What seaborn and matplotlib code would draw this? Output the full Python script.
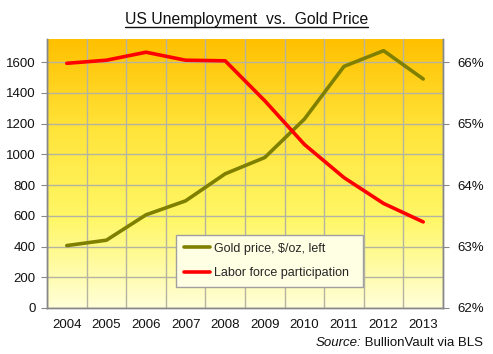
import numpy as np
import pandas as pd
import matplotlib
matplotlib.use("Agg")
import matplotlib.pyplot as plt
import seaborn as sns
from matplotlib.colors import LinearSegmentedColormap
from matplotlib.lines import Line2D

years = ["2004", "2005", "2006", "2007", "2008", "2009", "2010", "2011", "2012", "2013"]
gold = [406, 441, 606, 697, 873, 979, 1229, 1572, 1674, 1490]
labor = [65.98, 66.03, 66.16, 66.03, 66.02, 65.37, 64.66, 64.12, 63.70, 63.40]
right_ticks = [62, 63, 64, 65, 66]

df = pd.DataFrame({"pos": np.arange(len(years)), "gold": gold, "labor": labor})

sns.set_style("white")
plt.rcParams["font.family"] = ["Liberation Sans", "DejaVu Sans"]

fig = plt.figure(figsize=(4.93, 3.54), dpi=100)
ax = fig.add_axes([0.0953, 0.13, 0.8033, 0.7598])
ax2 = ax.twinx()

ymax = 1750
# gradient background
cmap = LinearSegmentedColormap.from_list("bg", ["#FFFFD8", "#FFF766", "#FFE43A", "#FFC000"])
grad = np.linspace(0, 1, 256).reshape(-1, 1)
ax.imshow(grad, extent=[-0.5, 9.5, 0, ymax], origin="lower", aspect="auto", cmap=cmap, zorder=0)

sns.lineplot(data=df, x="pos", y="gold", ax=ax, color="#808000", lw=2.6, legend=False)
sns.lineplot(data=df, x="pos", y="labor", ax=ax2, color="#FF0000", lw=2.6, legend=False)

ax.set_xlim(-0.5, 9.5)
ax.set_ylim(0, ymax)
ax2.set_ylim(62, 62 + ymax / 400)

ax.set_xticks(range(len(years)))
ax.set_xticklabels(years)
ax.set_xticks(np.arange(-0.5, 10, 1), minor=True)
ax.tick_params(axis="x", which="major", length=0, pad=8, labelsize=9.5, colors="#111111")
ax.tick_params(axis="x", which="minor", length=4, color="#888888", direction="out")
ax.set_yticks(range(0, 1601, 200))
ax.tick_params(axis="y", length=4, color="#888888", direction="out", labelsize=9.5, labelcolor="#111111", pad=4)
ax.grid(False)
ax.grid(True, which="minor", axis="x", color="#B4B4A0", lw=1)
ax.grid(True, which="major", axis="y", color="#B4B4A0", lw=1)
ax.set_axisbelow(True)
ax.set_xlabel("")
ax.set_ylabel("")

ax2.set_yticks(right_ticks)
ax2.set_yticklabels([f"{t}%" for t in right_ticks])
ax2.tick_params(axis="y", length=4, color="#888888", direction="out", labelsize=9.5, labelcolor="#111111", pad=6)
ax2.set_ylabel("")
ax2.grid(False)

for a in (ax, ax2):
    a.spines["top"].set_visible(False)
    for s in ("left", "right", "bottom"):
        a.spines[s].set_color("#888888")
        a.spines[s].set_linewidth(1)

handles = [Line2D([], [], color="#808000", lw=2.6), Line2D([], [], color="#FF0000", lw=2.6)]
leg = ax2.legend(handles, ["Gold price, $/oz, left", "Labor force participation"],
                 loc="lower left", bbox_to_anchor=(0.326, 0.079, 0.472, 0.189), mode="expand",
                 fontsize=9, frameon=True, fancybox=False, framealpha=1,
                 facecolor="#FFFFE4", edgecolor="#A0A0A0", handlelength=2.1,
                 handletextpad=0.3, labelspacing=1.0, borderpad=0.6, borderaxespad=0)
leg.get_frame().set_linewidth(1)

# title with underline
title = fig.text(0.5, 0.944, "US Unemployment  vs.  Gold Price", ha="center", va="center", fontsize=11.3, color="#111111")
fig.canvas.draw()
r = fig.canvas.get_renderer()
bb = title.get_window_extent(r).transformed(fig.transFigure.inverted())
fig.add_artist(Line2D([bb.x0, bb.x1], [bb.y0 + 0.002, bb.y0 + 0.002], color="#111111", lw=1, transform=fig.transFigure))

src = fig.text(0.98, 0.03, " BullionVault via BLS", ha="right", va="center", fontsize=9.5, color="#111111")
fig.canvas.draw()
sb = src.get_window_extent(r).transformed(fig.transFigure.inverted())
fig.text(sb.x0, 0.03, "Source:", ha="right", va="center", fontsize=9.5, style="italic", color="#111111")

fig.savefig("out.png", dpi=100)
